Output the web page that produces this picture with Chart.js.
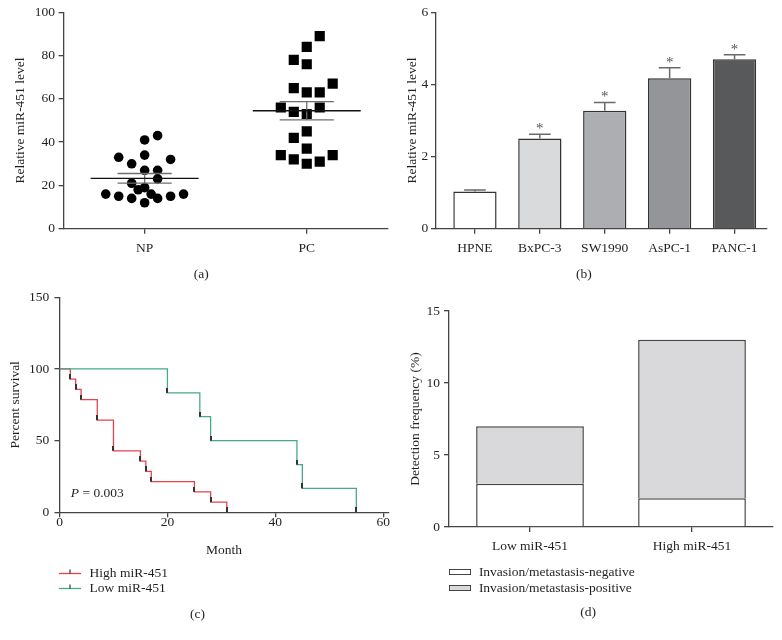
<!DOCTYPE html>
<html>
<head>
<meta charset="utf-8">
<title>miR-451 figure</title>
<script src="https://cdn.jsdelivr.net/npm/chart.js@4.4.1/dist/chart.umd.min.js"></script>
<style>
  body { margin: 0; background: #fff; }
  #figure { position: relative; width: 782px; height: 640px; overflow: hidden;
            font-family: 'Liberation Serif', 'Times New Roman', serif; color: #231f20; }
  #figure canvas { position: absolute; }
  .legend { position: absolute; font-size: 13.5px; }
  .legend .row { display: flex; align-items: center; height: 15.5px; white-space: nowrap; }
  .legend svg, .legend .box { flex: none; }
  .legend .box { display: inline-block; width: 19.4px; height: 4px; border: 1px solid #444; }
</style>
</head>
<body>
<div id="figure">
  <canvas id="scatterChart" width="395" height="290" style="left:0;top:0"></canvas>
  <canvas id="cellLineChart" width="391" height="290" style="left:391px;top:0"></canvas>
  <canvas id="survivalChart" width="394" height="356" style="left:0;top:284px"></canvas>
  <canvas id="detectionChart" width="391" height="356" style="left:391px;top:284px"></canvas>
  <div class="legend" id="survivalLegend" style="left:59.3px;top:565px"></div>
  <div class="legend" id="detectionLegend" style="left:449.3px;top:564.5px"></div>
</div>
<script>
// (a) relative miR-451 level, tissue samples
const groups = ['NP', 'PC'];
const npLevel = [16, 15, 14, 12, 14, 15, 16, 18, 19, 16, 21, 23, 27, 27, 30, 33, 32, 34, 41, 43];
const npSlot = [-6, -4, -2, 0, 2, 4, 6, -1, 0, 1, -2, 2, 0, 2, -2, -4, 4, 0, 0, 2];
const pcLevel = [89, 84, 78, 76, 67, 65, 63, 63, 56, 56, 54, 53, 45, 42, 37, 34, 34, 32, 30, 31];
const pcSlot = [2, 0, -2, 0, 4, -2, 0, 2, -4, 2, -2, 0, 0, -2, 0, -4, 4, -2, 0, 2];
const groupMean = [23.3, 54.5];
const groupSem = [2.2, 4.2];

// (b) cell lines
const cellLines = ['HPNE', 'BxPC-3', 'SW1990', 'AsPC-1', 'PANC-1'];
const relLevel = [1.03, 2.50, 3.27, 4.17, 4.70];
const relErr = [0.04, 0.12, 0.23, 0.29, 0.12];
const signif = ['', '*', '*', '*', '*'];

// (c) Kaplan-Meier curves
const highMonths = [0, 2, 3, 4, 7, 10, 15, 16, 17, 25, 28, 31];
const highSurv = [100, 92.9, 85.7, 78.6, 64.3, 42.9, 35.7, 28.6, 21.4, 14.3, 7.1, 0];
const lowMonths = [0, 20, 26, 28, 44, 45, 55];
const lowSurv = [100, 83.3, 66.7, 50, 33.3, 16.7, 0];
const monthTicks = [0, 20, 40, 60];
const pValueText = ' = 0.003';

// (d) invasion / metastasis detection
const expressionGroups = ['Low miR-451', 'High miR-451'];
const negFreq = [3, 2];
const posFreq = [4, 11];

// styling
const FONT = "'Liberation Serif', 'Times New Roman', serif";
const TEXT = '#231f20';
const AXIS_COLOR = '#444';
const SLOT_W = 0.04;
const CAP_HALF = 0.167;
const MEAN_HALF = 0.333;
const RED = '#e4434e';
const GREEN = '#47a98a';

Chart.defaults.font.family = FONT;
Chart.defaults.font.size = 13.5;
Chart.defaults.color = TEXT;
Chart.defaults.animation = false;
Chart.defaults.events = [];
Chart.defaults.plugins.legend.display = false;
Chart.defaults.plugins.tooltip.enabled = false;

function yAxis(min, max, step, title, width, labelPad) {
    return {
        type: 'linear', position: 'left', min: min, max: max,
        border: { color: AXIS_COLOR, width: 1.3 },
        grid: { drawOnChartArea: false, tickLength: 5, color: AXIS_COLOR, lineWidth: 1.3 },
        ticks: { stepSize: step, padding: labelPad },
        title: { display: true, text: title, padding: { top: 4, bottom: 4 } },
        afterFit: s => { s.width = width; }
    };
}

function xAxis(extra, height, labelPad) {
    return Object.assign({
        position: 'bottom',
        border: { color: AXIS_COLOR, width: 1.3 },
        grid: { drawOnChartArea: false, tickLength: 5, color: AXIS_COLOR, lineWidth: 1.3, offset: false },
        ticks: { padding: labelPad, maxRotation: 0, autoSkip: false },
        afterFit: s => { s.height = height; }
    }, extra);
}

function panelTitle(text, padTop, padBottom) {
    return {
        display: true, text: text, position: 'bottom', color: TEXT,
        font: { size: 13.5, weight: 'normal' },
        padding: { top: padTop, bottom: padBottom }
    };
}

// (a) scatter with mean and SEM
function initScatterChart() {
    const semLines = [], meanLines = [];
    groups.forEach((g, i) => {
        const c = i + 1, m = groupMean[i];
        const lo = m - groupSem[i], hi = m + groupSem[i];
        semLines.push({ x: c - CAP_HALF, y: hi }, { x: c + CAP_HALF, y: hi }, { x: c, y: null },
            { x: c - CAP_HALF, y: lo }, { x: c + CAP_HALF, y: lo }, { x: c, y: null },
            { x: c, y: lo }, { x: c, y: hi }, { x: c, y: null });
        meanLines.push({ x: c - MEAN_HALF, y: m }, { x: c + MEAN_HALF, y: m }, { x: c, y: null });
    });

    new Chart(document.getElementById('scatterChart'), {
        type: 'scatter',
        data: {
            datasets: [
                { data: meanLines, showLine: true, borderColor: '#111', borderWidth: 1.3, pointRadius: 0 },
                { data: semLines, showLine: true, borderColor: '#6e6e6e', borderWidth: 1.3, pointRadius: 0 },
                {
                    label: groups[0],
                    data: npLevel.map((v, i) => ({ x: 1 + npSlot[i] * SLOT_W, y: v })),
                    pointStyle: 'circle', pointRadius: 4.8, pointBorderWidth: 0,
                    pointBackgroundColor: '#000'
                },
                {
                    label: groups[1],
                    data: pcLevel.map((v, i) => ({ x: 2 + pcSlot[i] * SLOT_W, y: v })),
                    pointStyle: 'rect', pointRadius: 7.2, pointBorderWidth: 0,
                    pointBackgroundColor: '#000'
                }
            ]
        },
        options: {
            responsive: false,
            layout: { padding: { left: 8.6, right: 1, top: 12.3, bottom: 0 } },
            plugins: { title: panelTitle('(a)', 7.2, 7.9) },
            scales: {
                x: xAxis({
                    type: 'linear', min: 0.5, max: 2.5,
                    afterBuildTicks: s => { s.ticks = groups.map((g, i) => ({ value: i + 1 })); },
                    ticks: { padding: 6.2, maxRotation: 0, autoSkip: false, callback: (v, i) => groups[i] }
                }, 30, 6.2),
                y: yAxis(0, 100, 20, 'Relative miR-451 level', 55, 3.5)
            }
        }
    });
}

// (b) bars with error bars and significance stars
function initCellLineChart() {
    const errPoints = [];
    cellLines.forEach((name, i) => {
        const c = i + 1, top = relLevel[i] + relErr[i];
        errPoints.push({ x: c, y: relLevel[i] }, { x: c, y: top }, { x: c, y: null },
            { x: c - CAP_HALF, y: top }, { x: c + CAP_HALF, y: top }, { x: c, y: null });
    });

    const starPlugin = {
        id: 'stars',
        afterDatasetsDraw(chart) {
            const { ctx, scales: { x, y } } = chart;
            ctx.save();
            ctx.fillStyle = '#555';
            ctx.font = '15px ' + FONT;
            ctx.textAlign = 'center';
            ctx.textBaseline = 'middle';
            signif.forEach((s, i) => {
                if (!s) return;
                ctx.fillText(s, x.getPixelForValue(i + 1), y.getPixelForValue(relLevel[i] + relErr[i]) - 5);
            });
            ctx.restore();
        }
    };

    new Chart(document.getElementById('cellLineChart'), {
        type: 'bar',
        data: {
            datasets: [
                {
                    type: 'line', data: errPoints, borderColor: '#6a6a6a', borderWidth: 1.5,
                    pointRadius: 0, spanGaps: false, order: 0
                },
                {
                    data: cellLines.map((n, i) => ({ x: i + 1, y: relLevel[i] })),
                    backgroundColor: ['#ffffff', '#d9dadc', '#adaeb1', '#949598', '#58595b'],
                    borderColor: '#333', borderWidth: 1.5,
                    barPercentage: 0.667, categoryPercentage: 1, order: 1
                }
            ]
        },
        options: {
            responsive: false,
            layout: { padding: { left: 9.6, right: 15, top: 12.3, bottom: 0 } },
            plugins: { title: panelTitle('(b)', 7.2, 7.9) },
            scales: {
                x: xAxis({
                    type: 'linear', min: 0.4, max: 5.5, offset: false,
                    afterBuildTicks: s => { s.ticks = cellLines.map((n, i) => ({ value: i + 1 })); },
                    ticks: { padding: 6.2, maxRotation: 0, autoSkip: false, callback: (v, i) => cellLines[i] }
                }, 30, 6.2),
                y: yAxis(0, 6, 2, 'Relative miR-451 level', 35.4, 2.7)
            }
        },
        plugins: [starPlugin]
    });
}

// small dark stroke marking each step of the survival curves
function makeCensorTick() {
    const c = document.createElement('canvas');
    c.width = 2;
    c.height = 10;
    const g = c.getContext('2d');
    g.fillStyle = '#333';
    g.fillRect(0, 0, 2, 5);
    return c;
}

// (c) Kaplan-Meier survival
function initSurvivalChart() {
    const censorTick = makeCensorTick();
    const stepRadius = ctx => (ctx.dataIndex === 0 ? 0 : 3);

    const pLabelPlugin = {
        id: 'pLabel',
        afterDatasetsDraw(chart) {
            const { ctx, scales: { x, y } } = chart;
            const px = x.getPixelForValue(2.1), py = y.getPixelForValue(13.4);
            ctx.save();
            ctx.fillStyle = TEXT;
            ctx.textBaseline = 'middle';
            ctx.font = 'italic 13.5px ' + FONT;
            ctx.fillText('P', px, py);
            const w = ctx.measureText('P').width;
            ctx.font = '13.5px ' + FONT;
            ctx.fillText(pValueText, px + w, py);
            ctx.restore();
        }
    };

    const chart = new Chart(document.getElementById('survivalChart'), {
        type: 'line',
        data: {
            datasets: [
                {
                    label: 'High miR-451',
                    data: highMonths.map((m, i) => ({ x: m, y: highSurv[i] })),
                    borderColor: RED, borderWidth: 1.3, stepped: 'before', fill: false,
                    pointStyle: censorTick, pointRadius: stepRadius, order: 1
                },
                {
                    label: 'Low miR-451',
                    data: lowMonths.map((m, i) => ({ x: m, y: lowSurv[i] })),
                    borderColor: GREEN, borderWidth: 1.3, stepped: 'before', fill: false,
                    pointStyle: censorTick, pointRadius: stepRadius, order: 0
                }
            ]
        },
        options: {
            responsive: false,
            layout: { padding: { left: 2.9, right: 2, top: 12.5, bottom: 0 } },
            plugins: { title: panelTitle('(c)', 47.8, 17.9) },
            scales: {
                x: xAxis({
                    type: 'linear', min: 0, max: 61,
                    afterBuildTicks: s => { s.ticks = monthTicks.map(v => ({ value: v })); },
                    ticks: { padding: -3.1, maxRotation: 0, autoSkip: false },
                    title: { display: true, text: 'Month', padding: { top: 0, bottom: 0 } }
                }, 45.8, -3.1),
                y: yAxis(0, 150, 50, 'Percent survival', 56.6, 5.2)
            }
        },
        plugins: [pLabelPlugin]
    });

    buildLegend(chart, document.getElementById('survivalLegend'), ds =>
        '<svg width="22" height="10" style="margin-right:8.3px">' +
        '<line x1="0" y1="5.5" x2="22" y2="5.5" stroke="' + ds.borderColor + '" stroke-width="1.3"/>' +
        '<line x1="11" y1="1.5" x2="11" y2="5.5" stroke="#333" stroke-width="1.2"/></svg>');
}

// (d) stacked detection frequency
function initDetectionChart() {
    const chart = new Chart(document.getElementById('detectionChart'), {
        type: 'bar',
        data: {
            labels: expressionGroups,
            datasets: [
                {
                    label: 'Invasion/metastasis-negative', data: negFreq,
                    backgroundColor: '#ffffff', borderColor: '#444', borderWidth: 1.5,
                    barPercentage: 0.665, categoryPercentage: 1
                },
                {
                    label: 'Invasion/metastasis-positive', data: posFreq,
                    backgroundColor: '#d9d9db', borderColor: '#444', borderWidth: 1.5,
                    barPercentage: 0.665, categoryPercentage: 1
                }
            ]
        },
        options: {
            responsive: false,
            layout: { padding: { left: 12.2, right: 9, top: 27, bottom: 0 } },
            plugins: { title: panelTitle('(d)', 47.6, 19.2) },
            scales: {
                x: xAxis({ type: 'category', stacked: true, offset: true }, 30, 5.9),
                y: Object.assign(yAxis(0, 15, 5, 'Detection frequency (%)', 45.8, 4), { stacked: true })
            }
        }
    });

    buildLegend(chart, document.getElementById('detectionLegend'), ds =>
        '<span class="box" style="background:' + ds.backgroundColor + ';margin-right:8.2px"></span>');
}

// HTML legend rows built from the chart's datasets
function buildLegend(chart, el, swatch) {
    el.innerHTML = chart.data.datasets
        .map(ds => '<div class="row">' + swatch(ds) + '<span>' + ds.label + '</span></div>')
        .join('');
}

initScatterChart();
initCellLineChart();
initSurvivalChart();
initDetectionChart();
</script>
</body>
</html>
